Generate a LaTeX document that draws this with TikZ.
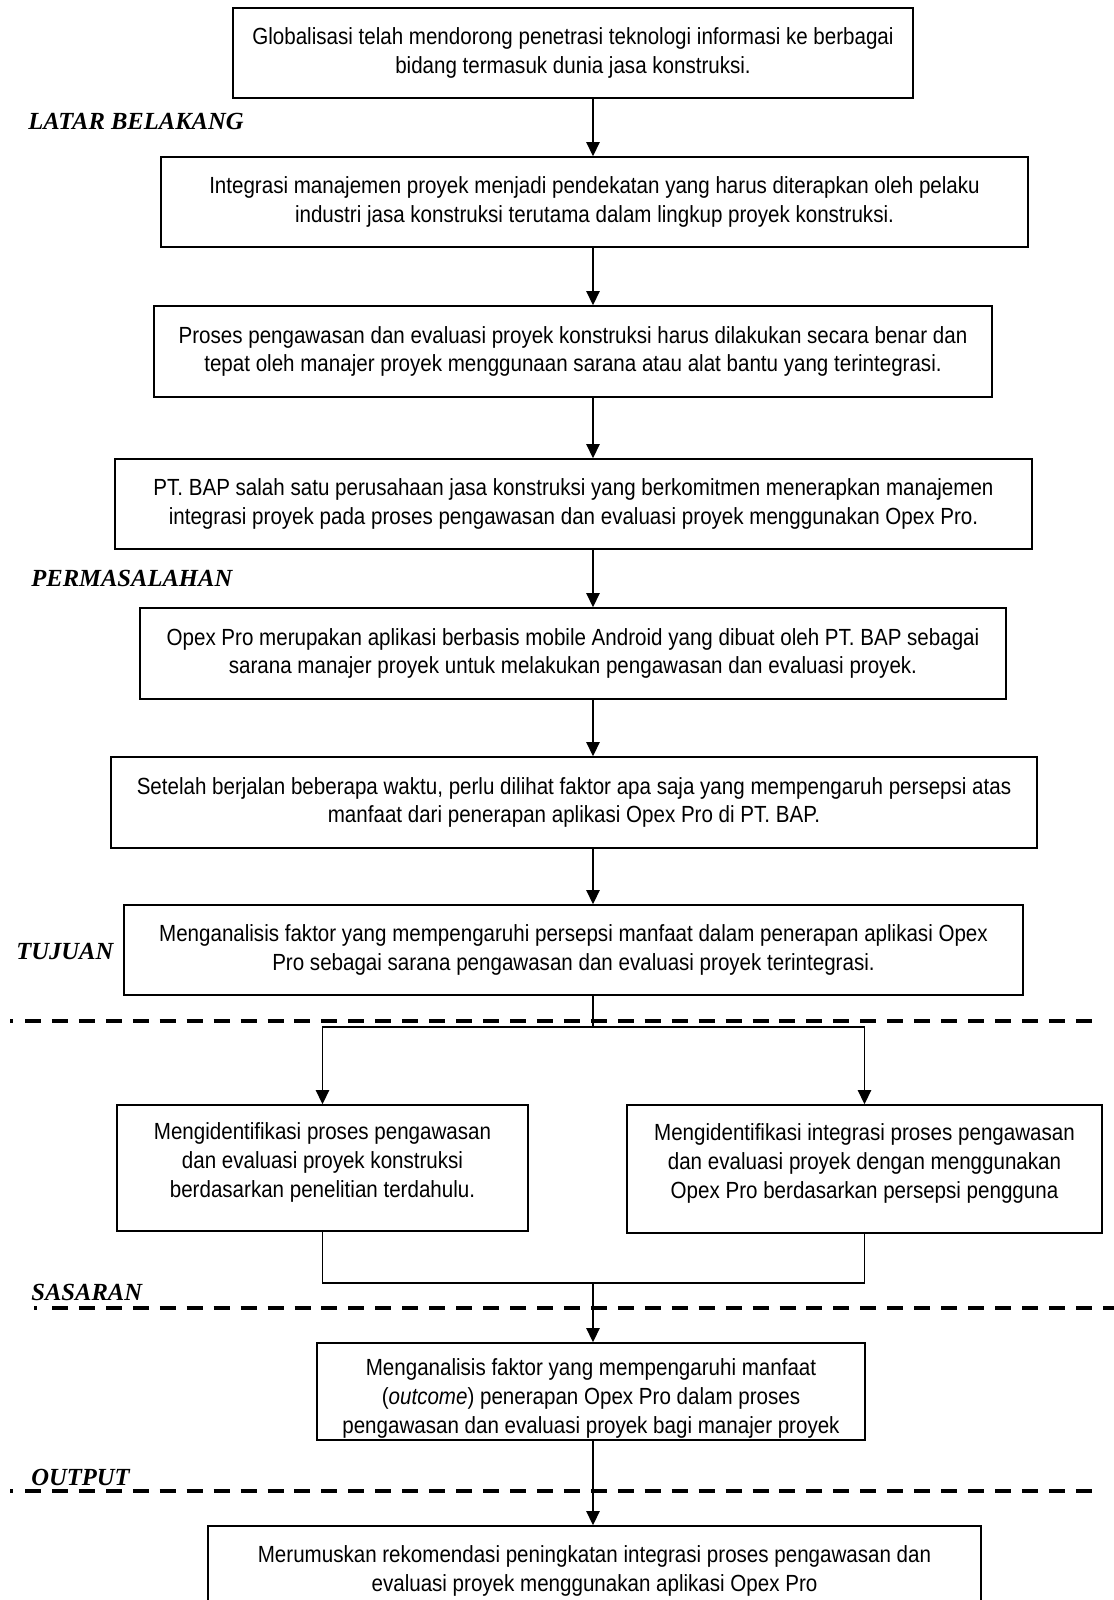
\documentclass[tikz,border=0pt]{standalone}
\usepackage{fontspec}
\setmainfont{Liberation Sans}[FakeStretch=0.88]
\newfontfamily\lblfont{Liberation Serif}
\usetikzlibrary{arrows.meta}

\begin{document}
\begin{tikzpicture}[x=0.02cm,y=-0.02cm,>={Triangle[width=7.5pt,length=8pt]},
  box/.style={draw,line width=.85pt,align=center,inner sep=0pt,
    font=\fontsize{13.3}{16.3}\selectfont},
  lbl/.style={anchor=west,inner sep=0pt,font=\fontsize{14}{16}\selectfont\lblfont\bfseries\itshape},
  line/.style={line width=.85pt},
  sep/.style={line width=2.3pt,dash pattern=on 0.32cm off 0.219cm}]
  \useasboundingbox (0,0) rectangle (1114,1600);
  % kotak
  \node[box,minimum width=13.6cm,minimum height=1.8cm] (glob) at (573,53)
    {Globalisasi telah mendorong penetrasi teknologi informasi ke berbagai\\bidang termasuk dunia jasa konstruksi.};
  \node[box,minimum width=17.34cm,minimum height=1.8cm] (integ) at (594.5,202)
    {Integrasi manajemen proyek menjadi pendekatan yang harus diterapkan oleh pelaku\\industri jasa konstruksi terutama dalam lingkup proyek konstruksi.};
  \node[box,minimum width=16.76cm,minimum height=1.82cm] (proses) at (573,351.5)
    {Proses pengawasan dan evaluasi proyek konstruksi harus dilakukan secara benar dan\\tepat oleh manajer proyek menggunaan sarana atau alat bantu yang terintegrasi.};
  \node[box,minimum width=18.34cm,minimum height=1.8cm] (bap) at (573.5,504)
    {PT. BAP salah satu perusahaan jasa konstruksi yang berkomitmen menerapkan manajemen\\integrasi proyek pada proses pengawasan dan evaluasi proyek menggunakan Opex Pro.};
  \node[box,minimum width=17.32cm,minimum height=1.82cm] (opex) at (573,653.5)
    {Opex Pro merupakan aplikasi berbasis mobile Android yang dibuat oleh PT. BAP sebagai\\sarana manajer proyek untuk melakukan pengawasan dan evaluasi proyek.};
  \node[box,minimum width=18.52cm,minimum height=1.82cm] (faktor) at (574,802.5)
    {Setelah berjalan beberapa waktu, perlu dilihat faktor apa saja yang mempengaruh persepsi atas\\manfaat dari penerapan aplikasi Opex Pro di PT. BAP.};
  \node[box,minimum width=17.98cm,minimum height=1.8cm] (tujuan) at (573.5,950)
    {Menganalisis faktor yang mempengaruhi persepsi manfaat dalam penerapan aplikasi Opex\\Pro sebagai sarana pengawasan dan evaluasi proyek terintegrasi.};
  \node[box,minimum width=8.22cm,minimum height=2.52cm,text depth=9pt] (idl) at (322.5,1168)
    {Mengidentifikasi proses pengawasan\\dan evaluasi proyek konstruksi\\berdasarkan penelitian terdahulu.};
  \node[box,minimum width=9.5cm,minimum height=2.56cm,text depth=9pt] (idr) at (864.5,1169)
    {Mengidentifikasi integrasi proses pengawasan\\dan evaluasi proyek dengan menggunakan\\Opex Pro berdasarkan persepsi pengguna};
  \node[box,minimum width=10.96cm,minimum height=1.94cm,text height=50pt] (sasaran) at (591,1391.5)
    {Menganalisis faktor yang mempengaruhi manfaat\\(\textit{outcome}) penerapan Opex Pro dalam proses\\pengawasan dan evaluasi proyek bagi manajer proyek};
  \node[box,minimum width=15.46cm,minimum height=1.8cm] (output) at (594.5,1571)
    {Merumuskan rekomendasi peningkatan integrasi proses pengawasan dan\\evaluasi proyek menggunakan aplikasi Opex Pro};
  % label
  \node[lbl] (lLatar) at (28,121) {LATAR BELAKANG};
  \node[lbl] (lMasalah) at (31,578) {PERMASALAHAN};
  \node[lbl] (lTujuan) at (16,951) {TUJUAN};
  \node[lbl] (lSasaran) at (31,1292) {SASARAN};
  \node[lbl] (lOutput) at (31,1477) {OUTPUT};
  % garis putus-putus
  \foreach \y/\a/\b/\c in {1021/10/25/1092,1308/34/52/1114,1491/10/25/1092} {
    \draw[line width=2.3pt] (\a,\y) -- ++(3,0);
    \draw[sep] (\b,\y) -- (\c,\y);
  }
  % panah
  \coordinate (axis) at (593,0);
  \coordinate (split) at (593,1027);
  \coordinate (merge) at (593,1283);
  \draw[line,->] (glob.south -| axis) -- (integ.north -| axis);
  \draw[line,->] (integ.south -| axis) -- (proses.north -| axis);
  \draw[line,->] (proses.south -| axis) -- (bap.north -| axis);
  \draw[line,->] (bap.south -| axis) -- (opex.north -| axis);
  \draw[line,->] (opex.south -| axis) -- (faktor.north -| axis);
  \draw[line,->] (faktor.south -| axis) -- (tujuan.north -| axis);
  \draw[line] (tujuan.south -| axis) -- (split);
  \draw[line,->] (split) -| (idl.north);
  \draw[line,->] (split) -| (idr.north);
  \draw[line] (idl.south) |- (merge) -| (idr.south);
  \draw[line,->] (merge) -- (sasaran.north -| axis);
  \draw[line,->] (sasaran.south -| axis) -- (output.north -| axis);
\end{tikzpicture}
\end{document}
